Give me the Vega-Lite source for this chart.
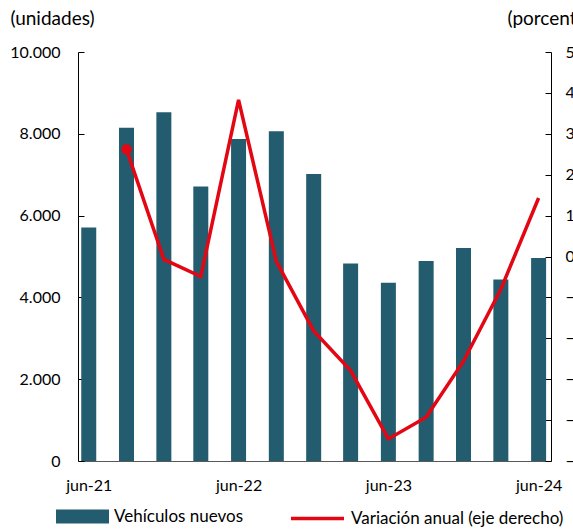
{
  "$schema": "https://vega.github.io/schema/vega-lite/v6.json",
  "width": 473,
  "height": 409,
  "autosize": {"type": "none"},
  "padding": {"left": 78, "top": 52, "right": 22, "bottom": 68},
  "background": "white",
  "config": {
    "view": {"stroke": null},
    "font": "Lato",
    "axis": {"labelFont": "Lato", "labelFontSize": 16, "labelColor": "#000", "titleFont": "Lato", "titleFontSize": 19, "titleFontWeight": "normal", "titleColor": "#000", "grid": false},
    "legend": {"labelFont": "Lato", "labelFontSize": 17, "labelColor": "#000", "padding": 0, "labelLimit": 0}
  },
  "data": {
    "values": [
      {"fecha": "2021-06-01", "vehiculos": 5710, "variacion": null},
      {"fecha": "2021-09-01", "vehiculos": 8150, "variacion": 26.2},
      {"fecha": "2021-12-01", "vehiculos": 8525, "variacion": -0.7},
      {"fecha": "2022-03-01", "vehiculos": 6710, "variacion": -4.9},
      {"fecha": "2022-06-01", "vehiculos": 7875, "variacion": 38.3},
      {"fecha": "2022-09-01", "vehiculos": 8060, "variacion": -1.2},
      {"fecha": "2022-12-01", "vehiculos": 7020, "variacion": -18.2},
      {"fecha": "2023-03-01", "vehiculos": 4830, "variacion": -27.9},
      {"fecha": "2023-06-01", "vehiculos": 4360, "variacion": -44.6},
      {"fecha": "2023-09-01", "vehiculos": 4890, "variacion": -39.3},
      {"fecha": "2023-12-01", "vehiculos": 5210, "variacion": -25.6},
      {"fecha": "2024-03-01", "vehiculos": 4440, "variacion": -8},
      {"fecha": "2024-06-01", "vehiculos": 4965, "variacion": 14.3}
    ]
  },
  "encoding": {
    "x": {
      "field": "fecha",
      "type": "temporal",
      "scale": {"type": "utc", "domain": [{"year": 2021, "month": 5, "date": 18, "utc": true}, {"year": 2024, "month": 6, "date": 19, "utc": true}]},
      "axis": {
        "title": null,
        "values": [{"year": 2021, "month": 6, "date": 1, "utc": true}, {"year": 2022, "month": 6, "date": 1, "utc": true}, {"year": 2023, "month": 6, "date": 1, "utc": true}, {"year": 2024, "month": 6, "date": 1, "utc": true}],
        "labelExpr": "'jun-' + utcFormat(datum.value, '%y')",
        "domainColor": "#595959",
        "tickColor": "#333",
        "tickSize": -5,
        "labelPadding": 21,
        "labelFlush": false,
        "labelOverlap": false
      }
    }
  },
  "layer": [
    {
      "mark": {"type": "bar", "size": 15, "clip": true},
      "encoding": {
        "y": {
          "field": "vehiculos",
          "type": "quantitative",
          "scale": {"domain": [0, 10000], "nice": false},
          "axis": {
            "title": "(unidades)",
            "titleAngle": 0,
            "titleAlign": "left",
            "titleBaseline": "middle",
            "titleX": -68,
            "titleY": -34,
            "values": [0, 2000, 4000, 6000, 8000, 10000],
            "labelExpr": "replace(format(datum.value, ','), ',', '.')",
            "domainColor": "#000",
            "tickColor": "#000",
            "tickSize": -6,
            "labelPadding": 24
          }
        },
        "color": {
          "datum": "Vehículos nuevos",
          "scale": {"range": ["#245c6f"]},
          "legend": {
            "title": null,
            "orient": "none",
            "legendX": -22,
            "legendY": 438,
            "symbolType": "M-1,-0.26H1V0.26H-1Z",
            "symbolSize": 2809,
            "symbolStrokeWidth": 0,
            "symbolOpacity": 1,
            "labelOffset": 5
          }
        }
      }
    },
    {
      "mark": {"type": "line", "strokeWidth": 3.5, "clip": true},
      "encoding": {
        "y": {
          "field": "variacion",
          "type": "quantitative",
          "scale": {"domain": [-50, 50], "nice": false},
          "axis": {
            "orient": "right",
            "title": "(porcentaje)",
            "titleAngle": 0,
            "titleAlign": "left",
            "titleBaseline": "middle",
            "titleX": -44,
            "titleY": -34,
            "values": [-50, -40, -30, -20, -10, 0, 10, 20, 30, 40, 50],
            "format": "d",
            "domainColor": "#000",
            "tickColor": "#000",
            "tickSize": -6,
            "labelPadding": 20
          }
        },
        "stroke": {
          "datum": "Variación anual (eje derecho)",
          "scale": {"range": ["#e30613"]},
          "legend": {
            "title": null,
            "orient": "none",
            "legendX": 211,
            "legendY": 438,
            "symbolType": "stroke",
            "symbolSize": 2809,
            "symbolStrokeWidth": 3.5,
            "labelOffset": 5
          }
        }
      }
    },
    {
      "transform": [{"filter": "utcyear(toDate(datum.fecha)) == 2021 && utcmonth(toDate(datum.fecha)) == 8"}],
      "mark": {"type": "point", "filled": true, "size": 110, "color": "#e30613", "opacity": 1},
      "encoding": {
        "y": {
          "field": "variacion",
          "type": "quantitative",
          "scale": {"domain": [-50, 50], "nice": false},
          "axis": null
        }
      }
    }
  ],
  "resolve": {"scale": {"y": "independent"}}
}
